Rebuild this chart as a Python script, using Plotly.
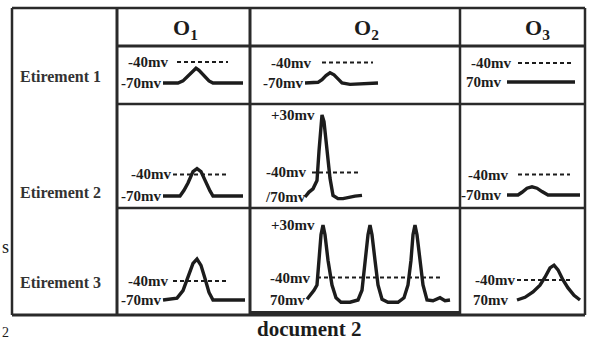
import plotly.graph_objects as go

W, H = 590, 340

# membrane potential recordings: time (ms) / potential (mV)
t_o1_e1 = [0, 15, 20, 25, 30, 33, 36, 41, 46, 50, 80]
v_o1_e1 = [-70, -70, -67, -60, -52, -49, -52, -60, -67, -70, -70]
t_o2_e1 = [0, 13, 17, 21, 25, 29, 33, 37, 45, 60, 73]
v_o2_e1 = [-70, -69, -65, -59, -55, -58, -64, -70, -72, -71, -70]
t_o3_e1 = [0, 25, 50, 68]
v_o3_e1 = [-70, -70, -70, -70]

t_o1_e2 = [0, 17, 21, 25, 30, 34, 38, 43, 47, 50, 80]
v_o1_e2 = [-70, -70, -62, -52, -36, -32, -36, -52, -63, -70, -70]
t_o2_e2 = [0, 4, 8, 12, 14, 16, 17, 19, 22, 25, 28, 33, 38, 45, 50, 57]
v_o2_e2 = [-70, -64, -60, -50, -14, 22, 30, 22, -14, -47, -68, -72, -72, -70, -69, -68]
t_o3_e2 = [0, 11, 15, 20, 25, 30, 35, 41, 73]
v_o3_e2 = [-70, -70, -66, -60, -58, -60, -65, -70, -70]

t_o1_e3 = [0, 14, 20, 25, 30, 34, 38, 42, 46, 50, 82]
v_o1_e3 = [-70, -67, -55, -32, -12, -5, -15, -36, -58, -70, -70]
t_o2_e3 = [0, 4, 7, 10, 12, 14, 16, 18, 21, 25, 29, 34, 43, 51, 55, 58, 61, 63, 65, 68, 71, 75,
           81, 91, 97, 101, 104, 106, 108, 110, 113, 116, 120, 126, 133, 138, 143]
v_o2_e3 = [-69, -63, -57, -50, -17, 17, 30, 17, -17, -50, -67, -73, -73, -70, -57, -17, 17, 30, 17, -17, -50, -69,
           -73, -73, -67, -50, -17, 17, 30, 17, -17, -50, -70, -71, -67, -71, -70]
t_o3_e3 = [0, 8, 16, 23, 28, 33, 37, 41, 46, 51, 57, 63]
v_o3_e3 = [-70, -66, -58, -48, -36, -22, -18, -25, -40, -52, -63, -70]

THRESHOLD = -40
outputs = ["O<sub>1</sub>", "O<sub>2</sub>", "O<sub>3</sub>"]
stimuli = ["Etirement 1", "Etirement 2", "Etirement 3"]

# (t, v, threshold span, labels) per cell, row by row
recordings = [
    (t_o1_e1, v_o1_e1, (14, 65), [("-40mv", -40), ("-70mv", -70)]),
    (t_o2_e1, v_o2_e1, (17, 68), [("-40mv", -40), ("-70mv", -70)]),
    (t_o3_e1, v_o3_e1, (11, 65), [("-40mv", -40), ("70mv", -70)]),
    (t_o1_e2, v_o1_e2, (10, 65), [("-40mv", -40), ("-70mv", -70)]),
    (t_o2_e2, v_o2_e2, (7, 55), [("+30mv", 30), ("-40mv", -40), ("/70mv", -70)]),
    (t_o3_e2, v_o3_e2, (11, 63), [("-40mv", -40), ("-70mv", -70)]),
    (t_o1_e3, v_o1_e3, (10, 65), [("-40mv", -40), ("-70mv", -70)]),
    (t_o2_e3, v_o2_e3, (10, 133), [("+30mv", 30), ("-40mv", -40), ("70mv", -70)]),
    (t_o3_e3, v_o3_e3, (0, 55), [("-40mv", -40), ("70mv", -70)]),
]

# page geometry (px)
col_x = [12, 117, 250, 460, 585]
row_y = [8, 46, 104, 208, 315]
# per cell: trace start x, y of -70 mV, px per mV, label right edges
placement = [
    (163, 83, 0.70, [170, 163]), (305, 83, 0.68, [313, 305]), (507, 82, 0.63, [513, 503]),
    (163, 196, 0.72, [173, 163]), (305, 197, 0.82, [317, 308, 308]), (507, 195, 0.68, [510, 503]),
    (163, 300, 0.63, [170, 163]), (307, 300, 0.75, [317, 312, 307]), (517, 300, 0.67, [517, 510]),
]

INK = "#1c1c1c"
SERIF = "Liberation Serif"

fig = go.Figure()
annotations = []
axes = {}
for i, ((t, v, span, labels), (x0, y70, k, ends)) in enumerate(zip(recordings, placement)):
    n = i + 1
    r, c = divmod(i, 3)
    left, right = col_x[c + 1], col_x[c + 2]
    top, bottom = row_y[r + 1], row_y[r + 2]
    xs = "x" if n == 1 else f"x{n}"
    ys = "y" if n == 1 else f"y{n}"
    axes["xaxis" if n == 1 else f"xaxis{n}"] = dict(
        domain=[left / W, right / W], range=[left - x0, right - x0], visible=False, anchor=ys, fixedrange=True)
    axes["yaxis" if n == 1 else f"yaxis{n}"] = dict(
        domain=[1 - bottom / H, 1 - top / H],
        range=[-70 + (y70 - bottom) / k, -70 + (y70 - top) / k], visible=False, anchor=xs, fixedrange=True)
    fig.add_trace(go.Scatter(x=list(span), y=[THRESHOLD, THRESHOLD], mode="lines", xaxis=xs, yaxis=ys,
                             line=dict(color=INK, width=2, dash="4px,3px"), hoverinfo="skip"))
    fig.add_trace(go.Scatter(x=t, y=v, mode="lines", xaxis=xs, yaxis=ys,
                             line=dict(color=INK, width=3.4), hoverinfo="skip"))
    for (txt, lvl), xe in zip(labels, ends):
        annotations.append(dict(text=f"<b>{txt}</b>", x=xe / W, xref="paper", y=lvl, yref=ys,
                                xanchor="right", yanchor="middle", showarrow=False,
                                font=dict(family=SERIF, size=15, color=INK)))

def note(txt, x, y, size, xanchor="center", color=INK):
    annotations.append(dict(text=txt, x=x / W, y=1 - y / H, xref="paper", yref="paper",
                            xanchor=xanchor, yanchor="middle", showarrow=False,
                            font=dict(family=SERIF, size=size, color=color)))

for txt, xc in zip(outputs, [185, 366, 537]):
    note(f"<b>{txt}</b>", xc, 29, 22)
for txt, yc in zip(stimuli, [77, 192, 282]):
    note(f"<b>{txt}</b>", 18, yc, 16, "left", "#333")
note("<b>document 2</b>", 309, 329, 21)
note("s", 0, 247, 18, "left")
note("2", 0, 332, 14, "left")

# table grid
shapes = []
def seg(x0, y0, x1, y1, w=2.5):
    shapes.append(dict(type="line", xref="paper", yref="paper", x0=x0 / W, x1=x1 / W,
                       y0=1 - y0 / H, y1=1 - y1 / H, line=dict(color="#2a2a2a", width=w)))

seg(col_x[0], row_y[0], col_x[-1], row_y[0])
seg(col_x[0], row_y[-1], col_x[-1], row_y[-1], 3)
for x in col_x:
    seg(x, row_y[0], x, row_y[-1], 3 if x in (117, 250) else 2.5)
for y in row_y[1:-1]:
    seg(col_x[1], y, col_x[-1], y, 3 if y == 46 else 2.5)
seg(250, 313, 460, 313, 4)

fig.update_layout(width=W, height=H, margin=dict(l=0, r=0, t=0, b=0), showlegend=False,
                  plot_bgcolor="white", paper_bgcolor="white", annotations=annotations, shapes=shapes, **axes)
fig.write_html("out.html", config={"displayModeBar": False},
               post_script="document.body.style.margin = '0';")
